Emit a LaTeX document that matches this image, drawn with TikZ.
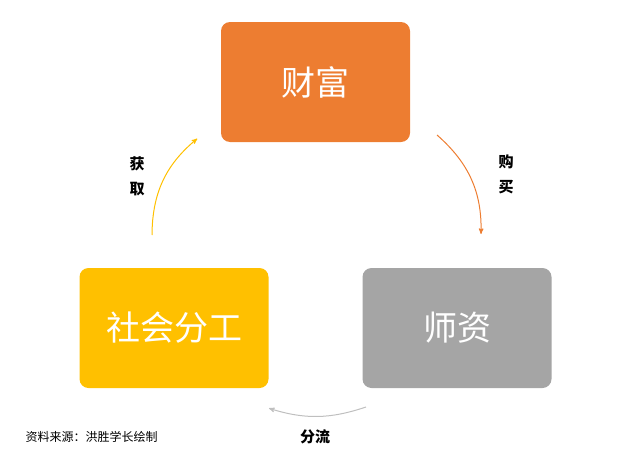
\documentclass[tikz,border=0pt]{standalone}
\usepackage{fontspec}
\newfontfamily\cjk{Noto Sans CJK SC}
\usetikzlibrary{arrows}
\definecolor{wealth}{HTML}{ED7D31}
\definecolor{teacher}{HTML}{A5A5A5}
\definecolor{labour}{HTML}{FFC000}
\tikzset{>=stealth',
	box/.style={rounded corners=9pt,minimum width=189pt,minimum height=120pt,inner sep=0pt,text=white,font=\cjk\fontsize{34}{36}\selectfont},
	lbl/.style={font=\cjk\bfseries\fontsize{15}{17}\selectfont,align=center},
	flow/.style={->,line width=1pt,shorten >=1pt}}
\begin{document}
\begin{tikzpicture}[x=1pt,y=-1pt]
	\useasboundingbox (0,0) rectangle (640,458);
	\node (W) at (315.5,82) [box,fill=wealth] {财富};
	\node (T) at (457,328) [box,fill=teacher] {师资};
	\node (L) at (174,328) [box,fill=labour] {社会分工};
	\coordinate (w1) at (437,135);
	\coordinate (t1) at (481,235);
	\coordinate (t2) at (366,407);
	\coordinate (l1) at (268,408);
	\coordinate (l2) at (152,235);
	\coordinate (w2) at (198,138);
	\draw [flow,wealth] (w1) to[bend left=25] (t1);
	\draw [flow,black!25] (t2) to[bend left=18] (l1);
	\draw [flow,labour] (l2) to[bend left=25] (w2);
	\node (buy) at (506,174) [lbl] {购\\[8pt]买};
	\node (get) at (137,176) [lbl] {获\\[8pt]取};
	\node (split) at (315,437) [lbl] {分流};
	\node (src) at (22,437) [anchor=west,font=\cjk\fontsize{12}{13}\selectfont] {资料来源：洪胜学长绘制};
\end{tikzpicture}
\end{document}
